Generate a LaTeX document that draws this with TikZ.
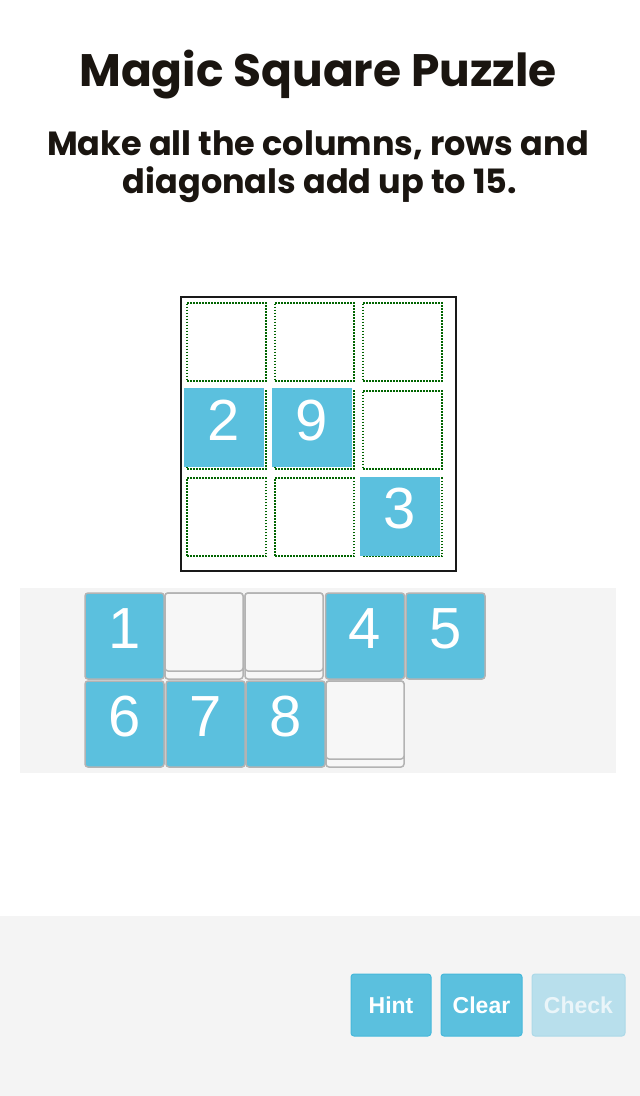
\documentclass[tikz,border=0pt]{standalone}
\usepackage{fontspec}
\setmainfont{Liberation Sans}
\newfontfamily\headfont{Poppins}
\usetikzlibrary{positioning}

\definecolor{tileblue}{HTML}{5BC0DE}
\definecolor{tileedge}{HTML}{B3B3B3}
\definecolor{slotfill}{HTML}{F7F7F7}
\definecolor{panelgrey}{HTML}{F4F4F4}
\definecolor{cellgreen}{HTML}{006400}
\definecolor{headink}{HTML}{1A1510}
\definecolor{btnedge}{HTML}{46B8DA}
\definecolor{btnfaded}{HTML}{B8DFEC}
\definecolor{btnfadededge}{HTML}{ACD9E8}
\definecolor{btnfadedtext}{HTML}{EAF5F9}

\tikzset{
  headtext/.style={text=headink, inner sep=0, anchor=base},
  cell/.style={draw=cellgreen, line width=2pt, dash pattern=on 1.6pt off 1.4pt,
    minimum width=79pt, minimum height=78pt, inner sep=0},
  numtile/.style={fill=tileblue, text=white, inner sep=0,
    font=\fontsize{58}{60}\selectfont, text height=41.5pt, text depth=16pt},
  boardtile/.style={numtile, minimum width=80pt, minimum height=79pt},
  traytile/.style={numtile, draw=tileedge, line width=1.5pt, rounded corners=3pt,
    minimum width=79pt, minimum height=86pt},
  slotbase/.style={draw=tileedge, fill=slotfill, line width=1.5pt, rounded corners=3pt,
    minimum width=78pt, minimum height=86pt, inner sep=0},
  slot/.style={draw=tileedge, fill=slotfill, line width=1.5pt, rounded corners=3pt,
    minimum width=78pt, minimum height=78pt, inner sep=0},
  button/.style={fill=tileblue, draw=btnedge, line width=1pt, rounded corners=3pt,
    text=white, font=\bfseries\fontsize{23}{25}\selectfont, minimum height=62pt, inner sep=0},
  fadedbutton/.style={button, fill=btnfaded, draw=btnfadededge, text=btnfadedtext}
}

\begin{document}
\begin{tikzpicture}[x=1pt,y=-1pt]
    \useasboundingbox (0,0) rectangle (640,1096);
    \fill[white] (0,0) rectangle (640,1096);

    % heading
    \node[headtext, font=\headfont\bfseries\fontsize{45.5}{48}\selectfont] (title) at (318,86) {Magic Square Puzzle};
    \node[headtext, font=\headfont\bfseries\fontsize{33.5}{36}\selectfont] (sub1) at (318,155) {Make all the columns, rows and};
    \node[headtext, font=\headfont\bfseries\fontsize{33.5}{36}\selectfont] (sub2) at (320,193) {diagonals add up to 15.};

    % board
    \node[draw=black!90, line width=1.5pt, minimum width=275pt, minimum height=274pt, inner sep=0] (board) at (318.5,434) {};
    \foreach \r in {0,1,2}
      \foreach \c in {0,1,2}
        \node[cell] (c-\r-\c) at (226.5+88*\c, 341.7+87.8*\r) {};
    \node[boardtile] (b2) at (224,427.5) {2};
    \node[boardtile] (b9) at (312,427.5) {9};
    \node[boardtile] (b3) at (400,516) {3};

    % tray
    \fill[panelgrey] (20,588) rectangle +(596,185);
    \node[traytile] (t1) at (124.5,636) {1};
    \node[slotbase] (s2b) at (204,636) {};
    \node[slot] (s2) at (204,632) {};
    \node[slotbase] (s3b) at (284,636) {};
    \node[slot] (s3) at (284,632) {};
    \node[traytile] (t4) at (365,636) {4};
    \node[traytile] (t5) at (445.5,636) {5};
    \node[traytile] (t6) at (124.5,724) {6};
    \node[traytile] (t7) at (205.5,724) {7};
    \node[traytile] (t8) at (285.5,724) {8};
    \node[slotbase] (s9b) at (365,724) {};
    \node[slot] (s9) at (365,720) {};

    % buttons
    \fill[panelgrey] (0,916) rectangle +(640,180);
    \node[button, minimum width=80pt] (hint) at (391,1005) {Hint};
    \node[button, minimum width=81pt] (clear) at (481.5,1005) {Clear};
    \node[fadedbutton, minimum width=93pt] (check) at (578.5,1005) {Check};
\end{tikzpicture}
\end{document}
